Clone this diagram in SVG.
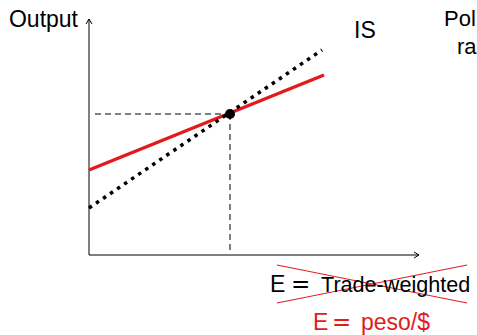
<svg xmlns="http://www.w3.org/2000/svg" width="477" height="335" viewBox="0 0 477 335">
<defs>
<marker id="ah" markerWidth="8" markerHeight="8" refX="6" refY="4" orient="auto" markerUnits="userSpaceOnUse">
<path d="M1,1 L6,4 L1,7" fill="none" stroke="#000" stroke-width="1"/>
</marker>
<style>
.t{font-family:"Liberation Sans",Arial,sans-serif;font-size:23px;fill:#000}
.eq{font-family:"DejaVu Sans",sans-serif}
.r{fill:#e31a1c}
.ax{stroke:#000;stroke-width:1;fill:none}
.dash{stroke:#000;stroke-width:1;stroke-dasharray:6,4;fill:none}
</style>
</defs>
<g id="connectors">
<line class="ax" x1="89" y1="255" x2="89" y2="19" marker-end="url(#ah)"/>
<line class="ax" x1="89" y1="255" x2="419" y2="255" marker-end="url(#ah)"/>
<line class="dash" x1="95" y1="114" x2="230" y2="114"/>
<line class="dash" x1="230" y1="114" x2="230" y2="251"/>
<line x1="89" y1="170" x2="324" y2="75" stroke="#e31a1c" stroke-width="3.5"/>
<line x1="89" y1="208" x2="322" y2="50" stroke="#000" stroke-width="3.5" stroke-dasharray="3.5,5"/>
<line x1="277" y1="265" x2="467" y2="303" stroke="#e31a1c" stroke-width="1"/>
<line x1="277" y1="303" x2="467" y2="265" stroke="#e31a1c" stroke-width="1"/>
</g>
<g id="equilibrium"><circle cx="230" cy="114" r="5" fill="#000"/></g>
<g id="label-output"><text class="t" x="78" y="27" text-anchor="end">Output</text></g>
<g id="label-is"><text class="t" x="354" y="38">IS</text></g>
<g id="label-policy"><text class="t" x="444" y="26" style="font-size:22px">Pol</text><text class="t" x="457" y="54" style="font-size:22px">ra</text></g>
<g id="label-e1"><text class="t" y="292"><tspan x="270">E</tspan><tspan class="eq" x="291">=</tspan><tspan x="321" style="font-size:21.6px">Trade-weighted</tspan></text></g>
<g id="label-e2"><text class="t r" y="330"><tspan x="313">E</tspan><tspan class="eq" x="332">=</tspan><tspan x="361">peso/$</tspan></text></g>
</svg>
